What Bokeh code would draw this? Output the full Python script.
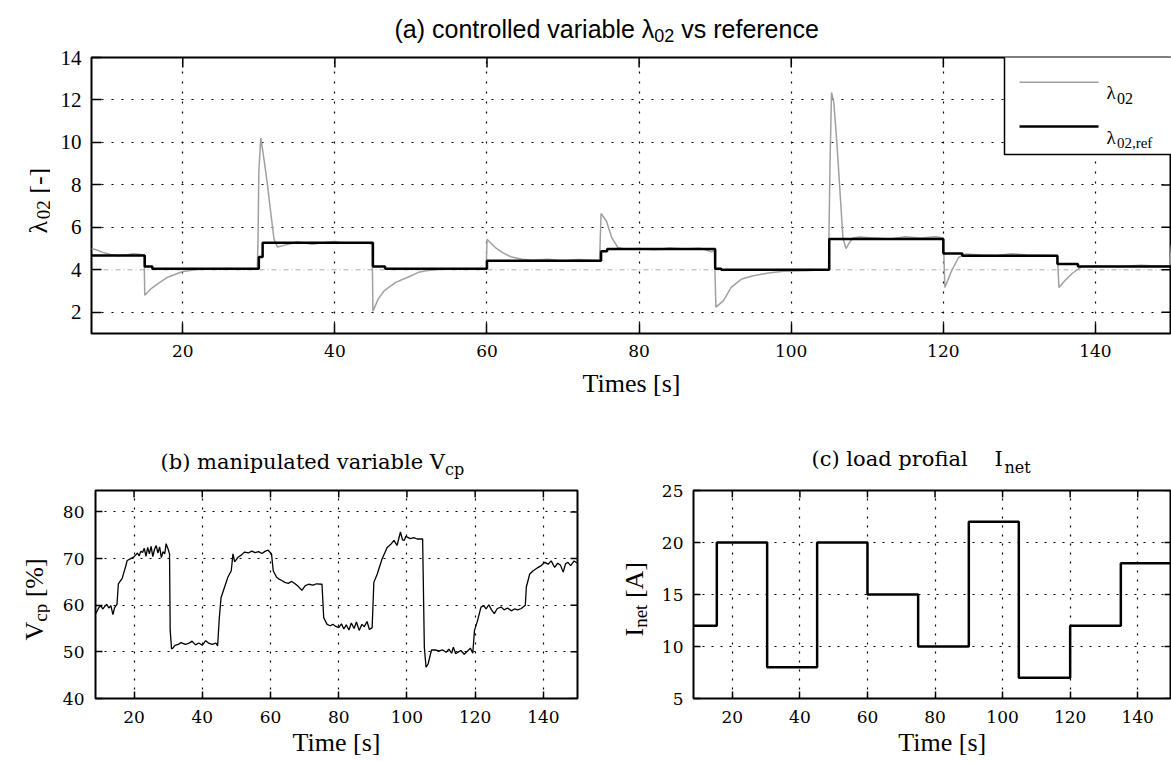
import math
from bokeh.plotting import figure
from bokeh.models import Label, BoxAnnotation, FixedTicker, Range1d, Span
from bokeh.layouts import column, row
from bokeh.embed import file_html
from bokeh.resources import INLINE

# ---------------- data ----------------
# (a) measured oxygen excess ratio lambda_O2 (time [s], value)
LAM_POINTS = [
    (8.0, 5.0), (8.7, 4.93), (9.5, 4.82), (10.5, 4.72), (11.5, 4.66), (12.5, 4.7),
    (13.5, 4.76), (14.5, 4.72), (14.92, 4.7), (15.0, 2.8), (15.8, 3.1), (16.7, 3.34),
    (18.0, 3.65), (20.0, 3.92), (22.0, 4.02), (24.0, 4.04), (26.0, 4.06), (28.0, 4.04),
    (29.8, 4.05), (29.9, 5.5), (30.0, 8.6), (30.25, 10.2), (30.45, 9.75), (30.7, 9.15),
    (31.1, 8.1), (31.6, 6.6), (32.0, 5.45), (32.45, 5.07), (33.3, 5.15), (34.0, 5.22),
    (35.0, 5.32), (36.0, 5.27), (37.0, 5.2), (38.0, 5.25), (39.0, 5.3), (40.0, 5.33),
    (41.0, 5.26), (42.0, 5.25), (44.5, 5.25), (44.9, 5.2), (45.0, 2.05), (45.7, 2.63),
    (46.5, 3.02), (48.0, 3.41), (49.5, 3.64), (51.0, 3.88), (52.0, 3.96), (54.0, 4.03),
    (56.0, 4.05), (59.9, 4.05), (60.0, 5.44), (61.1, 5.05), (62.1, 4.8), (63.1, 4.62),
    (64.6, 4.5), (66.0, 4.45), (68.0, 4.5), (70.0, 4.42), (72.0, 4.48), (74.8, 4.43),
    (75.0, 6.65), (75.7, 6.3), (76.4, 5.52), (77.2, 5.05), (78.0, 4.98), (80.0, 5.0),
    (82.0, 4.95), (84.0, 5.03), (86.0, 4.98), (88.0, 5.02), (89.5, 4.85), (89.9, 4.9),
    (90.1, 2.24), (91.1, 2.55), (92.1, 3.17), (93.5, 3.57), (95.0, 3.72), (97.0, 3.85),
    (99.0, 3.93), (102.0, 3.96), (104.0, 4.0), (104.9, 4.0), (105.1, 9.0), (105.3, 12.35),
    (105.6, 11.9), (106.0, 10.0), (106.5, 7.2), (106.8, 5.5), (107.2, 5.0), (107.6, 5.25),
    (108.1, 5.5), (109.0, 5.55), (111.0, 5.5), (113.0, 5.45), (115.0, 5.56), (117.0, 5.5),
    (119.0, 5.56), (120.0, 5.5), (120.2, 3.17), (121.1, 3.96), (122.0, 4.58), (123.0, 4.75),
    (125.0, 4.7), (127.0, 4.67), (129.0, 4.76), (131.0, 4.7), (133.0, 4.68), (135.0, 4.66),
    (135.2, 3.17), (136.0, 3.5), (137.0, 3.85), (138.2, 4.15), (140.0, 4.18), (143.0, 4.16),
    (146.0, 4.21), (148.0, 4.18), (149.8, 4.2), (150.0, 5.2),
]
# (a) reference lambda_O2,ref as a step signal (switch time, new value)
REF_T = [8, 15, 16, 30, 30.5, 45, 46.6, 60, 75, 75.8, 90, 90.8, 105, 120, 122.5, 135, 137.7, 150]
REF_V = [4.67, 4.16, 4.05, 4.6, 5.27, 4.16, 4.05, 4.43, 4.87, 4.98, 4.05, 4.0, 5.45, 4.77, 4.66, 4.27, 4.15, 4.15]
LAMBDA_MIN = 4.0

# (b) manipulated variable V_cp [%]
VCP_POINTS = [
    (8.7, 58.2), (9.2, 58.8), (9.7, 59.5), (10.3, 59.9), (10.8, 59.2), (11.5, 59.8),
    (12.0, 60.2), (12.6, 59.4), (13.2, 59.9), (13.8, 58.0), (14.3, 59.5), (15.0, 60.2),
    (15.4, 64.6), (16.0, 65.2), (16.5, 65.7), (17.0, 67.0), (17.5, 68.2), (18.0, 69.6),
    (19.0, 70.0), (19.9, 70.3), (20.5, 70.8), (21.0, 71.2), (21.5, 70.6), (22.0, 71.6),
    (22.5, 71.3), (23.0, 72.2), (23.5, 70.5), (24.0, 72.4), (24.5, 71.0), (25.0, 72.6),
    (25.5, 70.4), (26.0, 72.0), (26.5, 72.8), (27.0, 71.2), (27.5, 72.5), (28.0, 70.2),
    (28.5, 71.5), (29.0, 71.0), (29.4, 73.2), (30.0, 72.0), (30.4, 71.0), (30.6, 54.6),
    (31.0, 50.6), (31.5, 50.9), (32.0, 51.4), (33.0, 51.6), (33.8, 52.0), (35.0, 51.6),
    (36.0, 51.8), (37.0, 52.3), (38.0, 51.5), (39.0, 51.9), (40.0, 51.4), (41.0, 52.4),
    (42.0, 51.8), (43.0, 51.6), (44.0, 51.9), (44.5, 51.3), (45.0, 57.3), (45.5, 61.6),
    (46.5, 63.8), (47.5, 66.0), (48.5, 67.4), (49.0, 71.0), (49.5, 69.3), (50.5, 70.3),
    (51.5, 70.8), (52.4, 71.4), (53.5, 71.2), (54.5, 71.6), (55.5, 71.3), (56.5, 71.5),
    (57.5, 71.1), (58.5, 71.6), (59.3, 71.8), (60.3, 71.0), (60.8, 67.4), (61.8, 66.0),
    (62.5, 65.6), (63.3, 65.3), (64.2, 64.9), (65.2, 64.7), (66.2, 65.1), (67.2, 64.6),
    (68.2, 64.0), (69.2, 63.2), (70.2, 64.2), (71.2, 64.5), (72.5, 64.3), (73.5, 64.6),
    (75.1, 64.5), (75.6, 57.3), (76.6, 55.9), (77.5, 55.6), (78.3, 55.9), (79.0, 55.5),
    (80.0, 55.2), (80.8, 56.0), (81.5, 54.9), (82.2, 55.8), (83.0, 54.7), (83.7, 56.2),
    (84.5, 55.0), (85.2, 56.4), (86.0, 54.6), (86.8, 55.9), (87.5, 55.4), (88.3, 56.5),
    (89.0, 54.8), (89.8, 55.2), (90.3, 64.9), (91.3, 66.7), (92.7, 69.9), (94.2, 72.4),
    (95.2, 73.0), (96.2, 73.9), (97.1, 72.8), (98.1, 75.7), (98.7, 74.0), (99.2, 73.9),
    (99.7, 74.8), (100.1, 74.6), (101.0, 74.3), (102.0, 74.5), (103.0, 74.2), (104.6, 74.2),
    (105.1, 51.0), (105.6, 46.7), (106.2, 47.4), (106.7, 48.9), (107.2, 50.4), (108.2, 50.4),
    (109.5, 50.2), (110.5, 50.4), (111.5, 49.9), (112.3, 50.6), (113.1, 49.7), (113.6, 51.0),
    (114.3, 49.6), (114.9, 49.9), (115.8, 50.3), (116.8, 49.5), (117.8, 50.2), (118.6, 50.8),
    (119.3, 49.7), (119.8, 54.6), (120.7, 56.7), (121.7, 59.6), (122.5, 59.9), (123.2, 59.2),
    (124.0, 60.1), (124.8, 59.0), (125.6, 58.2), (126.5, 59.3), (127.6, 59.6), (128.5, 59.0),
    (129.5, 59.4), (130.6, 58.8), (131.5, 59.2), (132.5, 59.0), (133.5, 59.3), (134.7, 60.0),
    (135.0, 63.9), (136.0, 66.7), (137.0, 67.4), (138.2, 68.0), (139.4, 68.5), (140.4, 69.2),
    (141.4, 68.8), (142.3, 69.5), (143.3, 68.1), (144.2, 69.0), (145.0, 68.6), (145.8, 67.1),
    (146.5, 68.9), (147.2, 69.2), (148.0, 68.5), (149.0, 69.5), (150.0, 69.0),
]
# (c) load profile I_net [A] as a step signal
INET_T = [8.5, 15.4, 30.3, 45.1, 60, 75, 90, 104.8, 120, 135, 150]
INET_V = [12, 20, 8, 20, 15, 10, 22, 7, 12, 18, 15]

X_TICKS = [20, 40, 60, 80, 100, 120, 140]
LAM_TICKS = [2, 4, 6, 8, 10, 12, 14]
VCP_TICKS = [40, 50, 60, 70, 80]
INET_TICKS = [5, 10, 15, 20, 25]

lam_t = [a for a, _ in LAM_POINTS]
lam_v = [b for _, b in LAM_POINTS]
vcp_t = [a for a, _ in VCP_POINTS]
vcp_v = [b for _, b in VCP_POINTS]

# ---------------- styling helpers ----------------
SERIF = "Liberation Serif"
DVS = "DejaVu Serif"
SANS = "Liberation Sans"

WIDTHS = {
    SERIF: {' ': .25, '(': .333, ')': .333, '[': .333, ']': .333, '-': .333, '%': .833, ',': .25,
            '0': .5, '2': .5, 'a': .444, 'c': .444, 'e': .444, 'f': .333, 'i': .278, 'm': .778,
            'n': .5, 'p': .5, 'r': .333, 's': .389, 't': .278, 'A': .722, 'I': .333, 'T': .611,
            'V': .722, 'λ': .55},
    DVS: {' ': .318, '(': .39, ')': .39, 'a': .596, 'b': .64, 'c': .56, 'd': .64, 'e': .592,
          'f': .37, 'i': .32, 'l': .32, 'm': .948, 'n': .644, 'o': .602, 'p': .64, 'r': .478,
          's': .513, 't': .402, 'u': .644, 'v': .565, 'I': .473, 'V': .722},
    SANS: {' ': .278, '(': .333, ')': .333, 'a': .556, 'b': .556, 'c': .5, 'd': .556, 'e': .556,
           'f': .278, 'i': .222, 'l': .222, 'n': .556, 'o': .556, 'r': .333, 's': .5, 't': .278,
           'v': .5, '0': .556, '2': .556, 'λ': .5},
}


def text_w(s, font, size):
    tbl = WIDTHS[font]
    return sum(tbl.get(ch, 0.55) for ch in s) * size


def to_data(g, px, py):
    x0, x1 = g["xr"]
    y0, y1 = g["yr"]
    x = x0 + (px - g["L"]) / (g["R"] - g["L"]) * (x1 - x0)
    y = y0 + (g["B"] - py) / (g["B"] - g["T"]) * (y1 - y0)
    return x, y


def rich(p, g, px, py, parts, angle=0.0, align="left"):
    """Text made of several runs (for subscripts); position given in page px.
    Offsets are screen offsets; rotated text (90 deg) advances upward."""
    cx, cy = px - g["ox"], py - g["oy"]
    total = sum(text_w(t, f, s) for t, f, s, d in parts)
    adv = -total / 2 if align == "center" else 0.0
    for t, f, s, d in parts:
        lead = len(t) - len(t.lstrip(' '))
        adv += text_w(t[:lead], f, s)
        body = t[lead:]
        if angle == 0:
            xo, yo = adv, -d
        else:
            xo, yo = d, adv
        p.add_layout(Label(x=cx, y=cy, x_units="canvas", y_units="canvas",
                           x_offset=xo, y_offset=yo, text=body.rstrip(' '),
                           angle=angle, text_font=f, text_font_size=f"{s}px",
                           text_align="left", text_baseline="alphabetic", text_color="black"))
        adv += text_w(body, f, s)


def strip(w, h):
    """A blank canvas whose frame is the whole area, used to carry titles / axis names."""
    s = figure(width=w, height=h, x_range=Range1d(0, 1), y_range=Range1d(0, 1),
               x_axis_type=None, y_axis_type=None, output_backend="svg",
               toolbar_location=None, min_border=0)
    s.outline_line_color = None
    s.background_fill_color = "white"
    s.border_fill_color = "white"
    return s


def make_fig(g, w, h, mb, tick_len, yticks, ygrid_ticks, ylab_font, ylab_size,
             ystand, xstand, grid_dash, xlabel, xlabel_standoff):
    p = figure(width=w, height=h, x_range=Range1d(*g["xr"]), y_range=Range1d(*g["yr"]),
               output_backend="svg", toolbar_location=None,
               min_border_left=mb[0], min_border_right=mb[1],
               min_border_top=mb[2], min_border_bottom=mb[3])
    p.outline_line_color = "black"
    p.outline_line_width = 2
    p.background_fill_color = "white"
    p.border_fill_color = "white"
    xa = p.xaxis[0]
    ya = p.yaxis[0]
    xa.ticker = FixedTicker(ticks=X_TICKS)
    ya.ticker = FixedTicker(ticks=yticks)
    for ax in (xa, ya):
        ax.axis_line_color = None
        ax.major_tick_in = tick_len
        ax.major_tick_out = 0
        ax.major_tick_line_color = "black"
        ax.major_tick_line_width = 1.5
        ax.minor_tick_line_color = None
        ax.major_label_text_color = "black"
    xa.major_label_text_font = DVS
    xa.major_label_text_font_size = "17px"
    xa.major_label_standoff = xstand
    xa.axis_label = xlabel
    xa.axis_label_text_font = SERIF
    xa.axis_label_text_font_size = "26px"
    xa.axis_label_text_font_style = "normal"
    xa.axis_label_text_color = "black"
    xa.axis_label_standoff = xlabel_standoff
    ya.major_label_text_font = ylab_font
    ya.major_label_text_font_size = ylab_size
    ya.major_label_standoff = ystand
    p.xgrid.ticker = FixedTicker(ticks=X_TICKS)
    p.ygrid.ticker = FixedTicker(ticks=ygrid_ticks)
    for gr in (p.xgrid[0], p.ygrid[0]):
        gr.grid_line_color = "black"
        gr.grid_line_dash = grid_dash
        gr.grid_line_width = 1.2
        gr.grid_line_alpha = 1.0
    # mirrored tick marks on the top and right edges of the box
    x1 = g["xr"][1]
    y1 = g["yr"][1]
    p.ray(x=X_TICKS, y=[y1] * len(X_TICKS), length=tick_len, length_units="screen",
          angle=-math.pi / 2, line_color="black", line_width=1.5)
    p.ray(x=[x1] * len(yticks), y=yticks, length=tick_len, length_units="screen",
          angle=math.pi, line_color="black", line_width=1.5)
    return p


# ---------------- (a) top figure ----------------
T_A = dict(ox=0, oy=0)
Y_A = dict(ox=0, oy=45)
G_A = dict(ox=50, oy=45, L=91, R=1171, T=57, B=333, xr=(8, 150), yr=(1, 14))
tA = strip(1171, 45)
yA = strip(50, 363)
pA = make_fig(G_A, 1121, 363, (41, 0, 12, 75), 10, LAM_TICKS,
              [t for t in LAM_TICKS if t != LAMBDA_MIN], SERIF, "21px", 10, 11, "2 8",
              "Times [s]", 9)
pA.add_layout(Span(location=LAMBDA_MIN, dimension="width", line_color="#a8a8a8",
                   line_width=1, line_dash="5 3 1 3", level="underlay"))
pA.line(lam_t, lam_v, line_color="#a0a0a0", line_width=1.5)
pA.step(REF_T, REF_V, mode="after", line_color="black", line_width=2.5)

# legend (drawn by hand so that subscripts can be shown)
lx0, ly0 = to_data(G_A, 1004, 154)
pA.add_layout(BoxAnnotation(left=lx0, right=G_A["xr"][1] + 5, bottom=ly0, top=G_A["yr"][1] + 1,
                            fill_color="white", fill_alpha=1.0, line_color="black",
                            line_alpha=1.0, line_width=1.5))
sx0, sy0 = to_data(G_A, 1019, 81.7)
sx1, sy1 = to_data(G_A, 1098, 126)
pA.segment(x0=[sx0], y0=[sy0], x1=[sx1], y1=[sy0], line_color="#a0a0a0", line_width=1.5,
           level="overlay")
pA.segment(x0=[sx0], y0=[sy1], x1=[sx1], y1=[sy1], line_color="black", line_width=2.5,
           level="overlay")
rich(pA, G_A, 1106, 91.5, [("λ", SERIF, 19, 0), ("02", SERIF, 16, 6)])
rich(pA, G_A, 1106, 136.5, [("λ", SERIF, 19, 0), ("02,ref", SERIF, 15, 6)])

rich(tA, T_A, 394, 28, [("(a) controlled variable ", SANS, 25, 0), ("λ", SANS, 25, 0),
                        ("02", SANS, 18, 7), (" vs reference", SANS, 25, 0)])
rich(yA, Y_A, 38, 233, [("λ", SERIF, 26, 0), ("02", SERIF, 19, 5), (" [-]", SERIF, 26, 0)],
     angle=math.pi / 2)

# ---------------- (b) bottom left ----------------
T_B = dict(ox=0, oy=408)
Y_B = dict(ox=0, oy=480)
G_B = dict(ox=50, oy=480, L=95, R=577, T=490, B=698, xr=(8.7, 150), yr=(40, 84.6))
tB = strip(588, 72)
yB = strip(50, 281)
pB = make_fig(G_B, 538, 281, (45, 11, 10, 63), 7, VCP_TICKS, VCP_TICKS,
              DVS, "17px", 11, 12, "2 7", "Time [s]", 2)
pB.line(vcp_t, vcp_v, line_color="black", line_width=1.3)
rich(tB, T_B, 160, 461, [("(b) manipulated variable ", DVS, 21, 0), ("V", DVS, 21, 0),
                         ("cp", DVS, 16, 8)])
rich(yB, Y_B, 34, 640, [("V", SERIF, 26, 0), ("cp", SERIF, 19, 6), (" [%]", SERIF, 26, 0)],
     angle=math.pi / 2)

# ---------------- (c) bottom right ----------------
T_C = dict(ox=588, oy=408)
Y_C = dict(ox=588, oy=480)
G_C = dict(ox=648, oy=480, L=693, R=1171, T=490, B=698, xr=(8.5, 150), yr=(5, 25))
tC = strip(583, 72)
yC = strip(60, 281)
pC = make_fig(G_C, 523, 281, (45, 0, 10, 63), 7, INET_TICKS, INET_TICKS,
              DVS, "17px", 10, 12, "2 7", "\u00a0\u00a0\u00a0Time [s]", 2)
pC.step(INET_T, INET_V, mode="after", line_color="black", line_width=2.5)
rich(tC, T_C, 811, 458, [("(c) load profial", DVS, 21, 0)])
rich(tC, T_C, 994, 458, [("I", DVS, 21, 0), ("net", DVS, 16, 9)])
rich(yC, Y_C, 634, 636, [("I", SERIF, 26, 0), ("net", SERIF, 19, 6), (" [A]", SERIF, 26, 0)],
     angle=math.pi / 2)

layout = column(
    tA,
    row(yA, pA),
    row(column(tB, row(yB, pB)), column(tC, row(yC, pC))),
)
open("out.html", "w").write(file_html(layout, INLINE))
